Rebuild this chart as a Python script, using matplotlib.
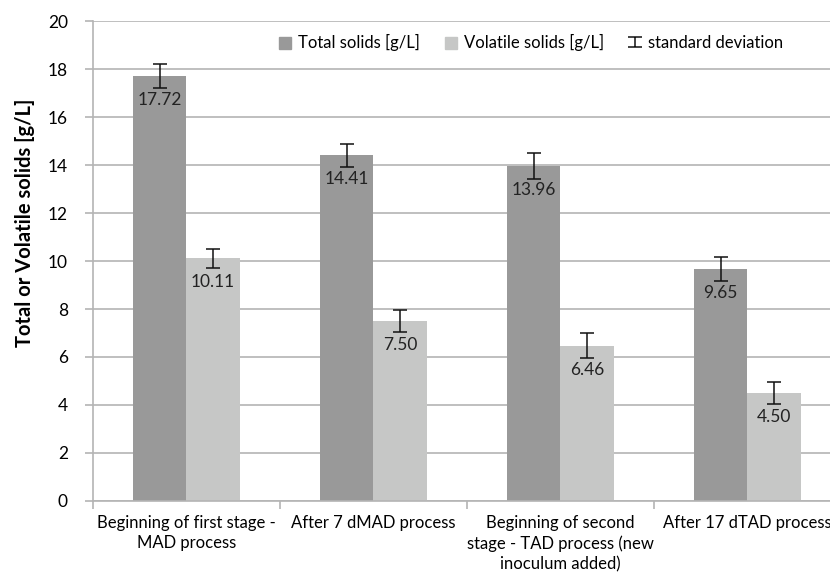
import numpy as np
import matplotlib
matplotlib.use("Agg")
import matplotlib.pyplot as plt
from matplotlib.lines import Line2D
from matplotlib.patches import Patch
from matplotlib.path import Path

plt.rcParams['font.family'] = ['Lato', 'DejaVu Sans']

categories = ["Beginning of first stage -\nMAD process",
              "After 7 dMAD process",
              "Beginning of second\nstage - TAD process (new\ninoculum added)",
              "After 17 dTAD process"]
total_solids = [17.72, 14.41, 13.96, 9.65]
total_sd = [0.50, 0.48, 0.55, 0.50]
volatile_solids = [10.11, 7.50, 6.46, 4.50]
volatile_sd = [0.40, 0.46, 0.52, 0.46]

dark = "#999999"
light = "#c6c7c6"
grid_c = "#b4b4b4"

fig = plt.figure(figsize=(8.30, 5.77), dpi=100)
ax = fig.add_axes([0.112, 0.132, 0.901, 0.831])

x = np.arange(len(categories))
w = 0.285
ax.bar(x - w/2, total_solids, w, color=dark, zorder=2)
ax.bar(x + w/2, volatile_solids, w, color=light, zorder=2)
ax.errorbar(x - w/2, total_solids, yerr=total_sd, fmt='none', ecolor='#111111',
            elinewidth=1.1, capsize=5, capthick=1.1, zorder=3)
ax.errorbar(x + w/2, volatile_solids, yerr=volatile_sd, fmt='none', ecolor='#111111',
            elinewidth=1.1, capsize=5, capthick=1.1, zorder=3)

for xs, vals in [(x - w/2, total_solids), (x + w/2, volatile_solids)]:
  for xi, v in zip(xs, vals):
    ax.annotate("%.2f" % v, (xi, v), xytext=(0, -24), textcoords='offset pixels',
                ha='center', va='center', fontsize=12.5, color='#222222', zorder=4)

ax.set_xlim(-0.5, len(categories) - 0.5)
ax.set_ylim(0, 20)
ax.set_yticks(np.arange(0, 21, 2))
ax.tick_params(axis='y', length=6, color=grid_c, width=1.2, labelsize=12.5, pad=12)
ax.yaxis.grid(True, color=grid_c, lw=1.2, zorder=0)
ax.set_axisbelow(True)

ax.set_xticks(np.arange(-0.5, len(categories), 1))
ax.set_xticklabels([])
ax.tick_params(axis='x', which='major', length=6, color=grid_c, width=1.2)
ax.set_xticks(x, minor=True)
ax.set_xticklabels(categories, minor=True, fontsize=12, linespacing=1.35)
ax.tick_params(axis='x', which='minor', length=0, pad=10)

for s in ['top', 'right']:
  ax.spines[s].set_visible(False)
for s in ['left', 'bottom']:
  ax.spines[s].set_color(grid_c)
  ax.spines[s].set_linewidth(1.2)

ax.set_ylabel("Total or Volatile solids [g/L]", fontsize=14.5, fontweight='bold')
ax.yaxis.set_label_coords(-0.078, 0.579)

# I-beam marker for the sd legend entry
ibeam = Path([(-1, -0.7), (1, -0.7), (0, -0.7), (0, 0.7), (-1, 0.7), (1, 0.7)],
             [Path.MOVETO, Path.LINETO, Path.MOVETO, Path.LINETO, Path.MOVETO, Path.LINETO])
handles = [Patch(color=dark), Patch(color=light),
           Line2D([0], [0], lw=0, marker=ibeam, markersize=10.5, markeredgecolor='#111111',
                  markerfacecolor='none', markeredgewidth=1.1)]
labels = ["Total solids [g/L]", "Volatile solids [g/L]", "standard deviation"]
ax.legend(handles, labels, ncol=3, frameon=False, loc='center', bbox_to_anchor=(0.586, 0.955),
          fontsize=12, handlelength=0.75, handleheight=0.75, handletextpad=0.4, columnspacing=1.5)

fig.savefig("out.png", dpi=100)
